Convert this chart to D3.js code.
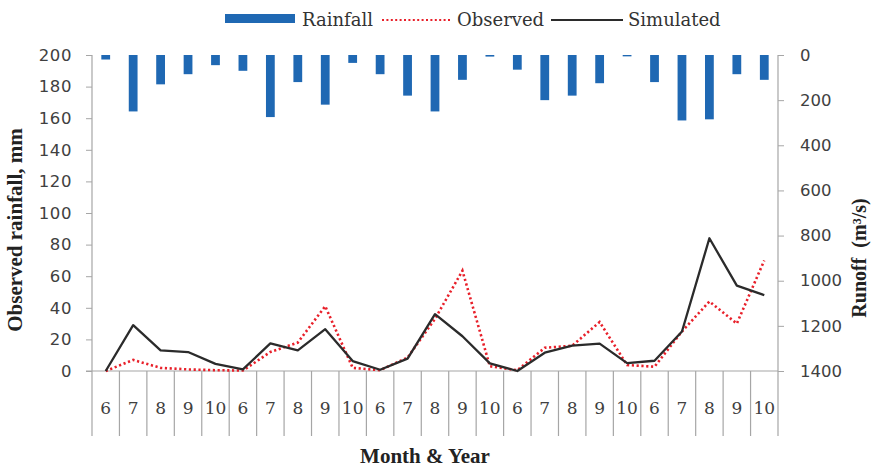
<!DOCTYPE html>
<html>
<head>
<meta charset="utf-8">
<script src="https://cdn.jsdelivr.net/npm/d3@7"></script>
<style>
  html, body { margin: 0; padding: 0; background: #fff; }
  svg { display: block; }
</style>
</head>
<body>
<svg id="chart" width="876" height="468"></svg>
<script>
// Month of each record (five seasons, June to October)
const months = [6, 7, 8, 9, 10, 6, 7, 8, 9, 10, 6, 7, 8, 9, 10, 6, 7, 8, 9, 10, 6, 7, 8, 9, 10];
// Rainfall, plotted downward from the top on the secondary axis
const rainfall = [20, 250, 130, 85, 45, 70, 275, 120, 220, 35, 85, 180, 250, 110, 7, 65, 200, 180, 125, 6, 120, 290, 285, 85, 110];
// Observed and simulated values on the primary axis
const observed = [0, 7, 2, 1, 0.5, 0.3, 12, 18, 41, 2, 0.5, 8.5, 33, 63.5, 3, 0.5, 14.7, 16, 31, 3.8, 2.7, 25, 44, 30, 70];
const simulated = [0, 29, 13, 12, 4.5, 1, 17.5, 13, 26.5, 6.3, 0.8, 7.8, 36, 22, 4.8, 0, 11.6, 16, 17.3, 5, 6.5, 25, 84, 54, 48];
const leftTicks = [0, 20, 40, 60, 80, 100, 120, 140, 160, 180, 200];
const rightTicks = [0, 200, 400, 600, 800, 1000, 1200, 1400];

(function draw() {
  const svg = d3.select("#chart");
  const pLeft = 92, pRight = 778, pTop = 55, pBottom = 371, catBottom = 436;
  const axisColor = "#a6a6a6";

  const x = d3.scaleBand().domain(d3.range(months.length)).range([pLeft, pRight]);
  const yL = d3.scaleLinear().domain([0, 200]).range([pBottom, pTop]);
  const yR = d3.scaleLinear().domain([0, 1400]).range([pTop, pBottom]);
  const cx = i => x(i) + x.bandwidth() / 2;

  // Rainfall bars hanging from the top
  const barW = x.bandwidth() * 0.32;
  svg.append("g").selectAll("rect").data(rainfall).join("rect")
    .attr("x", (d, i) => cx(i) - barW / 2)
    .attr("y", yR(0))
    .attr("width", barW)
    .attr("height", d => yR(d) - yR(0))
    .attr("fill", "#1f68b3");

  // Left axis
  const gL = svg.append("g").attr("transform", `translate(${pLeft},0)`)
    .call(d3.axisLeft(yL).tickValues(leftTicks).tickSize(6).tickPadding(14).tickSizeOuter(0));
  gL.select(".domain").remove();
  gL.selectAll(".tick line").attr("stroke", axisColor);
  gL.selectAll(".tick text").attr("font-family", "DejaVu Sans").attr("font-size", 16.5)
    .attr("fill", "#404040").attr("letter-spacing", 0.6);

  // Right axis
  const gR = svg.append("g").attr("transform", `translate(${pRight},0)`)
    .call(d3.axisRight(yR).tickValues(rightTicks).tickFormat(d3.format("d"))
      .tickSize(6).tickPadding(16).tickSizeOuter(0));
  gR.select(".domain").remove();
  gR.selectAll(".tick line").attr("stroke", axisColor);
  gR.selectAll(".tick text").attr("font-family", "DejaVu Sans").attr("font-size", 16.5)
    .attr("fill", "#404040");

  // Axis lines and category box
  const frame = svg.append("g").attr("stroke", axisColor).attr("stroke-width", 1.2);
  frame.append("line").attr("x1", pLeft).attr("x2", pLeft).attr("y1", pTop).attr("y2", catBottom);
  frame.append("line").attr("x1", pRight).attr("x2", pRight).attr("y1", pTop).attr("y2", catBottom);
  frame.append("line").attr("x1", pLeft - 6).attr("x2", pRight).attr("y1", pBottom).attr("y2", pBottom);
  frame.selectAll("line.sep").data(d3.range(1, months.length)).join("line")
    .attr("class", "sep")
    .attr("x1", i => x(i)).attr("x2", i => x(i))
    .attr("y1", pBottom).attr("y2", catBottom);

  // Month labels
  svg.append("g").selectAll("text").data(months).join("text")
    .attr("x", (d, i) => cx(i))
    .attr("y", 414)
    .attr("text-anchor", "middle")
    .attr("font-family", "DejaVu Serif")
    .attr("font-size", 17)
    .attr("fill", "#404040")
    .text(d => d);

  // Lines
  const line = d3.line().x((d, i) => cx(i)).y(d => yL(d));
  svg.append("path").datum(observed).attr("d", line)
    .attr("fill", "none").attr("stroke", "#e8202a").attr("stroke-width", 2.6)
    .attr("stroke-dasharray", "2.2,2.6");
  svg.append("path").datum(simulated).attr("d", line)
    .attr("fill", "none").attr("stroke", "#2b2b2b").attr("stroke-width", 2.3)
    .attr("stroke-linejoin", "round");

  // Axis titles
  svg.append("text")
    .attr("transform", "translate(22,230) rotate(-90)")
    .attr("text-anchor", "middle")
    .attr("font-family", "Liberation Serif").attr("font-weight", "bold").attr("font-size", 21)
    .attr("fill", "#222")
    .text("Observed rainfall, mm");
  svg.append("text")
    .attr("transform", "translate(866,258) rotate(-90)")
    .attr("text-anchor", "middle")
    .attr("font-family", "Liberation Serif").attr("font-weight", "bold").attr("font-size", 20)
    .attr("fill", "#222")
    .style("white-space", "pre")
    .text("Runoff  (m³/s)");
  svg.append("text")
    .attr("x", 425).attr("y", 463)
    .attr("text-anchor", "middle")
    .attr("font-family", "Liberation Serif").attr("font-weight", "bold").attr("font-size", 21)
    .attr("fill", "#222")
    .text("Month & Year");

  // Legend
  const lg = svg.append("g").attr("font-family", "DejaVu Serif").attr("font-size", 18).attr("fill", "#333");
  lg.append("rect").attr("x", 225).attr("y", 14).attr("width", 70).attr("height", 9).attr("fill", "#1f68b3");
  lg.append("text").attr("x", 302).attr("y", 26).text("Rainfall");
  lg.append("line").attr("x1", 382).attr("x2", 451).attr("y1", 20).attr("y2", 20)
    .attr("stroke", "#e8202a").attr("stroke-width", 2).attr("stroke-dasharray", "2,2.4");
  lg.append("text").attr("x", 457).attr("y", 26).text("Observed");
  lg.append("line").attr("x1", 551).attr("x2", 623).attr("y1", 20).attr("y2", 20)
    .attr("stroke", "#2b2b2b").attr("stroke-width", 2);
  lg.append("text").attr("x", 628).attr("y", 26).text("Simulated");
})();
</script>
</body>
</html>
